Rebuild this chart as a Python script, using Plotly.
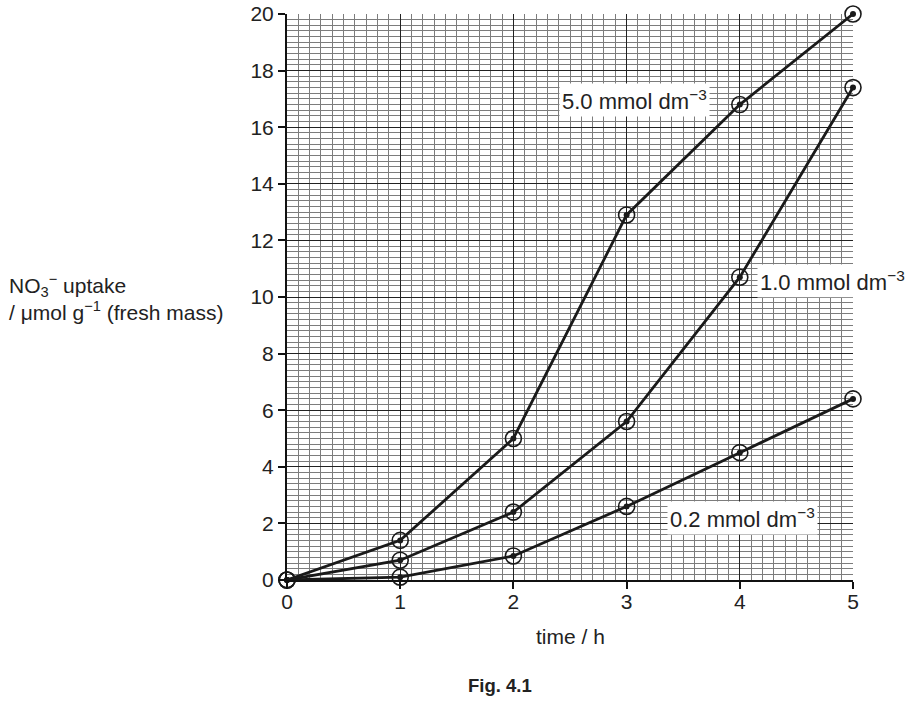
import plotly.graph_objects as go

# uptake readings, umol per g fresh mass
time_h = [0, 1, 2, 3, 4, 5]
uptake_5_0 = [0, 1.4, 5.0, 12.9, 16.8, 20.0]
uptake_1_0 = [0, 0.7, 2.4, 5.6, 10.7, 17.4]
uptake_0_2 = [0, 0.1, 0.85, 2.6, 4.5, 6.4]

series_labels = ["5.0 mmol dm<sup>−3</sup>", "1.0 mmol dm<sup>−3</sup>", "0.2 mmol dm<sup>−3</sup>"]
label_pos = [(3.07, 16.95), (4.82, 10.55), (4.02, 2.2)]

FONT = "Liberation Sans, Arial, sans-serif"
INK = "#1a1a1a"

fig = go.Figure()
for ys in (uptake_5_0, uptake_1_0, uptake_0_2):
    fig.add_trace(go.Scatter(
        x=time_h, y=ys, mode="lines+markers",
        line=dict(color=INK, width=2.8),
        marker=dict(symbol="circle-open", size=16, color=INK,
                    line=dict(width=1.6, color=INK)),
        showlegend=False, cliponaxis=False,
    ))
    # the dot in the middle of each ring
    fig.add_trace(go.Scatter(
        x=time_h, y=ys, mode="markers",
        marker=dict(symbol="circle", size=6, color=INK),
        showlegend=False, cliponaxis=False,
    ))

for text, (lx, ly) in zip(series_labels, label_pos):
    fig.add_annotation(x=lx, y=ly, text=text, showarrow=False,
                       bgcolor="white", borderpad=2,
                       font=dict(family=FONT, size=22, color="#222"))

fig.add_annotation(xref="paper", yref="paper", x=-0.495, y=0.5,
                   xanchor="left", yanchor="middle", align="left", showarrow=False,
                   text="NO<sub>3</sub><sup>−</sup> uptake<br>/ μmol g<sup>−1</sup> (fresh mass)",
                   font=dict(family=FONT, size=21, color="#222"))
fig.add_annotation(xref="paper", yref="paper", x=0.5, y=-0.099,
                   xanchor="center", yanchor="middle", showarrow=False,
                   text="time / h", font=dict(family=FONT, size=21, color="#222"))
fig.add_annotation(xref="paper", yref="paper", x=0.376, y=-0.187,
                   xanchor="center", yanchor="middle", showarrow=False,
                   text="<b>Fig. 4.1</b>", font=dict(family=FONT, size=18.5, color="#222"))

axis_common = dict(
    showgrid=True, gridcolor="#222", gridwidth=1.2,
    showline=True, linecolor="#111", linewidth=2,
    ticks="outside", ticklen=7, tickwidth=1.6, tickcolor="#111",
    zeroline=False, ticklabeloverflow="allow", automargin=False,
    tickfont=dict(family=FONT, size=21, color="#222"),
)

fig.update_xaxes(range=[0, 5], dtick=1, tick0=0, ticklabelstandoff=-5,
                 minor=dict(dtick=0.1, showgrid=True, gridcolor="#7c7c7c", gridwidth=0.7),
                 **axis_common)
fig.update_yaxes(range=[0, 20], dtick=2, tick0=0,
                 minor=dict(dtick=0.2, showgrid=True, gridcolor="#7c7c7c", gridwidth=0.7),
                 **axis_common)

fig.update_layout(
    width=918, height=708,
    margin=dict(l=287, r=65, t=14, b=128),
    paper_bgcolor="white", plot_bgcolor="white",
    font=dict(family=FONT, color="#222"),
)

# drop the page's default body margin so the figure sits flush in the window
fig.write_html("out.html", config={"displayModeBar": False},
               post_script="document.body.style.margin = '0';")
